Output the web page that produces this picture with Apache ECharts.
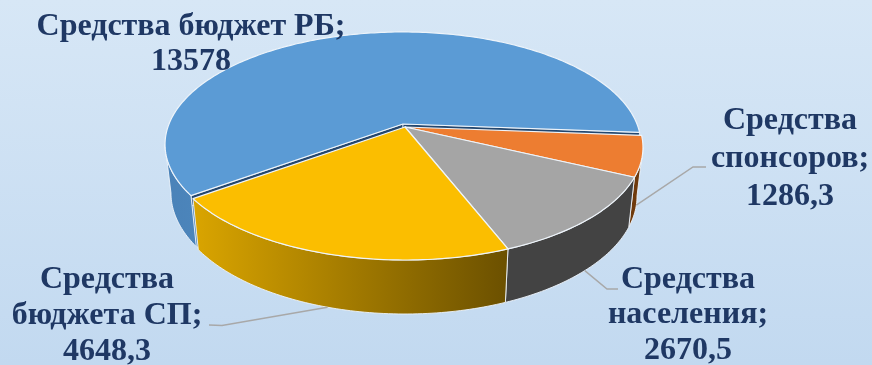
<!DOCTYPE html>
<html><head><meta charset="utf-8">
<style>html,body{margin:0;padding:0;width:872px;height:365px;overflow:hidden}#c{width:872px;height:365px}</style>
<script src="https://cdn.jsdelivr.net/npm/echarts@6/dist/echarts.min.js"></script>
</head><body><div id="c"></div>
<script>
var categories = ['Средства бюджет РБ', 'Средства\nспонсоров', 'Средства\nнаселения', 'Средства\nбюджета СП'];
var values = [13578, 1286.3, 2670.5, 4648.3];
var startDeg = 144;
var topColors = ['#5B9BD5', '#ED7D31', '#A5A5A5', '#FBBE00'];

var G = {cx:405, cy:127, R:234, K:108.8, p:0.182, sx:0.975, sy:1.048, d:47.6};
var explode = [[-2,-3],[0,0],[0,0],[0,0]];
var labelBoxes = [
  {x:191, y:44, lh:35, anchorFrac:null},
  {x:790, y:159, lh:38, anchorFrac:1, elbow:[693,167], end:[706,167]},
  {x:688, y:315, lh:35.5, anchorFrac:1, elbow:[607,289], end:[618,289]},
  {x:107, y:315.5, lh:36, anchorFrac:1, elbow:[222,325.5], end:[209,325]}
];
var total = values.reduce(function(a,b){return a+b;},0);
var bounds = [startDeg];
values.forEach(function(v,i){bounds.push(bounds[i]+v/total*360);});
var tangent = Math.asin(G.p)*180/Math.PI;
function rimPoint(t,o){var r=t*Math.PI/180,u=Math.cos(r),v=Math.sin(r),w=1-G.p*v;
  return [G.cx+o[0]+G.R*u/w, G.cy+o[1]+G.K*v/w];}
function down(pt,o,f){var cx=G.cx+o[0],cy=G.cy+o[1];f=f==null?1:f;
  return [pt[0]+f*(G.sx-1)*(pt[0]-cx), pt[1]+f*((G.sy-1)*(pt[1]-cy)+G.d)];}
function arc(a,b,o){var n=Math.max(2,Math.ceil(Math.abs(b-a)/1)),out=[];
  for(var i=0;i<=n;i++)out.push(rimPoint(a+(b-a)*i/n,o));return out;}
var grad = function(stops){return new echarts.graphic.LinearGradient(0,0,1,0,stops);};
var wallFills = [
  grad([{offset:0,color:'#4A82B8'},{offset:1,color:'#4C85BB'}]),
  '#6F3A0C', '#434343',
  grad([{offset:0,color:'#DAA500'},{offset:1,color:'#6B5000'}])
];
var STROKE='#EEF4FA';
function renderSlice(params,api){
  var i=params.dataIndex,a=bounds[i],b=bounds[i+1],o=explode[i],kids=[];
  var apex=[G.cx+o[0],G.cy+o[1]];
  if(i===0){
    var c0=rimPoint(a,o);
    kids.push({type:'polygon',shape:{points:[apex,c0,down(c0,o),down(apex,o)]},
      style:{fill:'#4B84BA'}});
    [a,b].forEach(function(t){
      var c=rimPoint(t,o);
      kids.push({type:'polygon',shape:{points:[apex,c,down(c,o,0.2),down(apex,o,0.2)]},
        style:{fill:'#24476E',stroke:STROKE,lineWidth:0.8}});
    });
  }
  var shift=a>=360?360:0;
  var wa=Math.max(a-shift,tangent),wb=Math.min(b-shift,180-tangent);
  if(wb>wa){
    var t=arc(wa,wb,o),bt=t.map(function(p){return down(p,o);}).reverse();
    kids.push({type:'polygon',shape:{points:t.concat(bt)},
      style:{fill:wallFills[i],stroke:STROKE,lineWidth:0.9}});
  }
  kids.push({type:'polygon',shape:{points:[apex].concat(arc(a,b,o))},
    style:{fill:topColors[i],stroke:STROKE,lineWidth:1.2,lineJoin:'round'}});
  return {type:'group',children:kids};
}
function renderLabel(params,api){
  var i=params.dataIndex,L=labelBoxes[i],kids=[];
  if(L.anchorFrac!=null){
    var t=(bounds[i]+bounds[i+1])/2,o=explode[i],pt=down(rimPoint(t,o),o,L.anchorFrac);
    kids.push({type:'polyline',shape:{points:[pt,L.elbow,L.end]},
      style:{fill:'none',stroke:'#A8A8A8',lineWidth:1.5}});
  }
  var txt=(categories[i]+';\n'+String(api.value(0))).replace(/(\d)\.(\d)/,'$1,$2');
  kids.push({type:'text',style:{text:txt,x:L.x,y:L.y,align:'center',verticalAlign:'middle',
    font:'bold 32px "Liberation Serif"',lineHeight:L.lh,fill:'#1F3864'}});
  return {type:'group',children:kids};
}
var chart=echarts.init(document.getElementById('c'),null,{renderer:'canvas'});
chart.setOption({
  animation:false,
  backgroundColor:new echarts.graphic.LinearGradient(0,0,0,1,[{offset:0,color:'#D7E7F6'},{offset:1,color:'#C2D9F0'}]),
  series:[
    {type:'custom',coordinateSystem:'none',data:values,renderItem:renderSlice,silent:true,z:2},
    {type:'custom',coordinateSystem:'none',data:values,renderItem:renderLabel,silent:true,z:3}
  ]
});
</script></body></html>
